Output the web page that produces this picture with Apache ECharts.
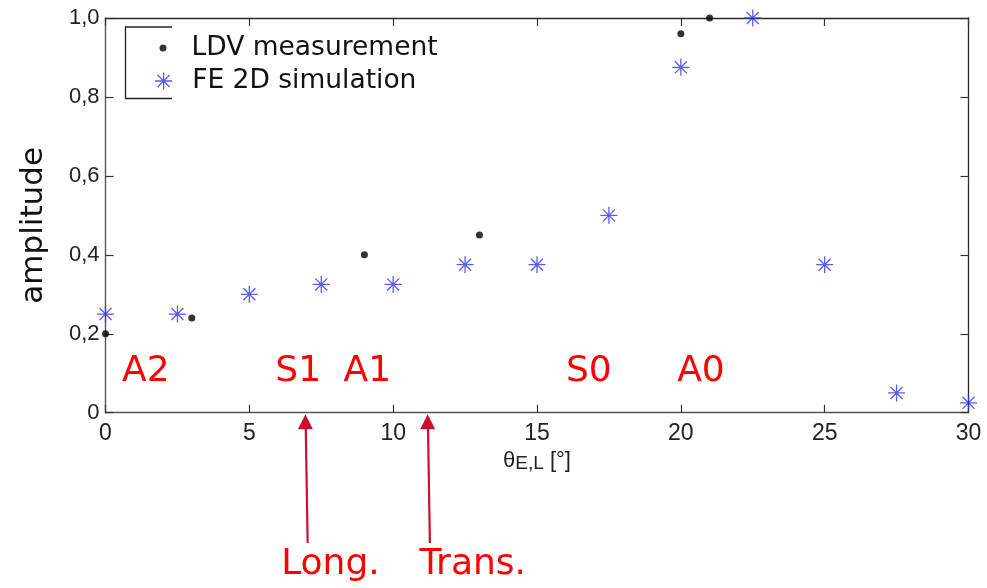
<!DOCTYPE html>
<html>
<head>
<meta charset="utf-8">
<script src="https://cdn.jsdelivr.net/npm/echarts@6/dist/echarts.min.js"></script>
<style>
  html, body { margin: 0; padding: 0; background: #ffffff; }
  #chart { width: 987px; height: 588px; }
</style>
</head>
<body>
<div id="chart"></div>
<script>
// Measured amplitudes (LDV) and 2D finite-element results versus incidence angle
const ldvAngle = [0, 3, 9, 13, 20, 21];
const ldvAmplitude = [0.20, 0.24, 0.40, 0.45, 0.96, 1.00];
const feAngle = [0, 2.5, 5, 7.5, 10, 12.5, 15, 17.5, 20, 22.5, 25, 27.5, 30];
const feAmplitude = [0.25, 0.25, 0.30, 0.325, 0.325, 0.375, 0.375, 0.50, 0.875, 1.00, 0.375, 0.05, 0.025];

// Axis tick labels (decimal comma)
const xTickLabels = ['0', '5', '10', '15', '20', '25', '30'];
const yTickLabels = ['0', '0,2', '0,4', '0,6', '0,8', '1,0'];

// Wave mode names and the angles where they are written
const modeNames = ['A2', 'S1', 'A1', 'S0', 'A0'];
const modeAngles = [1.4, 6.7, 9.1, 16.8, 20.7];

// Critical angles marked with arrows below the axis
const arrowNames = ['Long.', 'Trans.'];
const arrowAngles = [6.95, 11.2];

const STAR = 'path://M10,0L10,20M0,10L20,10M2.93,2.93L17.07,17.07M2.93,17.07L17.07,2.93';
const starColor = '#3535e8';
const red = '#ff0000';
const arrowRed = '#cc1030';
const tickFont = 'Liberation Sans, Arial, sans-serif';
const textFont = 'DejaVu Sans, Verdana, sans-serif';

const chart = echarts.init(document.getElementById('chart'));

const axisTick = { show: true, inside: true, length: 8, lineStyle: { color: '#333', width: 1.2 } };
const frameLine = { show: true, onZero: false, lineStyle: { color: '#2a2a2a', width: 1.3 } };
const mainLine = { show: true, onZero: false, lineStyle: { color: '#555', width: 1.4 } };

const option = {
  animation: false,
  backgroundColor: '#ffffff',
  grid: { left: 105.5, right: 18.5, top: 18, bottom: 175.3, show: false },
  xAxis: [
    {
      type: 'value', min: 0, max: 30, interval: 5, position: 'bottom',
      axisLine: mainLine, axisTick, splitLine: { show: false },
      axisLabel: {
        margin: 9, fontSize: 23, fontFamily: tickFont, color: '#222',
        formatter: v => xTickLabels[Math.round(v / 5)]
      },
      name: '{t|θ}{s|E,L}{u| [°]}',
      nameLocation: 'middle', nameGap: 36,
      nameTextStyle: {
        rich: {
          t: { fontSize: 22, fontFamily: tickFont, color: '#222', lineHeight: 24, verticalAlign: 'top' },
          s: { fontSize: 19, fontFamily: tickFont, color: '#222', lineHeight: 18, verticalAlign: 'bottom' },
          u: { fontSize: 22, fontFamily: tickFont, color: '#222', lineHeight: 24, verticalAlign: 'top' }
        }
      }
    },
    {
      type: 'value', min: 0, max: 30, interval: 5, position: 'top',
      axisLine: frameLine, axisTick, axisLabel: { show: false }, splitLine: { show: false }
    }
  ],
  yAxis: [
    {
      type: 'value', min: 0, max: 1, interval: 0.2, position: 'left',
      axisLine: mainLine, axisTick, splitLine: { show: false },
      axisLabel: {
        margin: 6, fontSize: 22, fontFamily: tickFont, color: '#222',
        formatter: v => yTickLabels[Math.round(v / 0.2)]
      },
      name: 'amplitude', nameLocation: 'middle', nameRotate: 90, nameGap: 56,
      nameTextStyle: { fontSize: 31, fontFamily: textFont, color: '#111', padding: [0, 20, 0, 0] }
    },
    {
      type: 'value', min: 0, max: 1, interval: 0.2, position: 'right',
      axisLine: frameLine, axisTick, axisLabel: { show: false }, splitLine: { show: false }
    }
  ],
  legend: [
    {
      data: [{ name: 'LDV measurement', icon: 'circle' }],
      left: 159.5, top: 33, padding: 0,
      itemWidth: 7, itemHeight: 7,
      selectedMode: false,
      textStyle: { fontSize: 26.5, fontFamily: textFont, color: '#111', lineHeight: 30, padding: [0, 0, 0, 20] }
    },
    {
      data: [{ name: 'FE 2D simulation', icon: STAR }],
      left: 154.5, top: 66, padding: 0,
      itemWidth: 17, itemHeight: 17,
      selectedMode: false,
      itemStyle: { borderWidth: 1.3 },
      textStyle: { fontSize: 26.5, fontFamily: textFont, color: '#111', lineHeight: 30, padding: [0, 0, 0, 15] }
    }
  ],
  series: [
    {
      name: 'LDV measurement', type: 'scatter', clip: false,
      symbol: 'circle', symbolSize: 7,
      itemStyle: { color: '#000' },
      data: ldvAngle.map((a, i) => [a, ldvAmplitude[i]]),
      z: 3
    },
    {
      name: 'FE 2D simulation', type: 'scatter', clip: false,
      symbol: STAR, symbolSize: 17, symbolKeepAspect: true,
      itemStyle: { color: 'rgba(0,0,0,0)', borderColor: starColor, borderWidth: 1.3 },
      data: feAngle.map((a, i) => [a, feAmplitude[i]]),
      z: 2
    },
    {
      name: 'modes', type: 'scatter', silent: true,
      symbol: 'circle', symbolSize: 1,
      itemStyle: { color: '#ffffff', opacity: 0 },
      label: {
        show: true, position: 'inside', formatter: p => p.name,
        fontSize: 36, fontFamily: textFont, color: red, opacity: 1,
        textBorderWidth: 0, textBorderColor: 'transparent'
      },
      data: modeNames.map((n, i) => ({ name: n, value: [modeAngles[i], 0.104] }))
    }
  ]
};

chart.setOption(option);

// Arrows pointing up at the critical angles, with their captions underneath
const graphics = [
  {
    type: 'polyline', silent: true,
    shape: { points: [[172, 27], [125.5, 27], [125.5, 98.5], [172, 98.5]] },
    style: { stroke: '#222', lineWidth: 1.3, fill: null }
  }
];
arrowAngles.forEach((a, i) => {
  const tip = chart.convertToPixel({ gridIndex: 0 }, [a, 0]);
  const tx = tip[0], ty = tip[1] + 1.5;
  const bx = tx + 2.2, by = 543;
  graphics.push({
    type: 'line', silent: true,
    shape: { x1: bx, y1: by, x2: tx + 0.3, y2: ty + 12 },
    style: { stroke: arrowRed, lineWidth: 2.2 }
  });
  graphics.push({
    type: 'polygon', silent: true,
    shape: { points: [[tx, ty], [tx - 7.5, ty + 15], [tx + 7.5, ty + 15]] },
    style: { fill: arrowRed }
  });
  graphics.push({
    type: 'text', silent: true,
    x: tx + 25 + (i === 1 ? 20 : 0), y: 565,
    style: {
      text: arrowNames[i], fontSize: 36, fontFamily: textFont, fill: red,
      align: 'center', verticalAlign: 'middle'
    }
  });
});
chart.setOption({ graphic: graphics });
</script>
</body>
</html>
